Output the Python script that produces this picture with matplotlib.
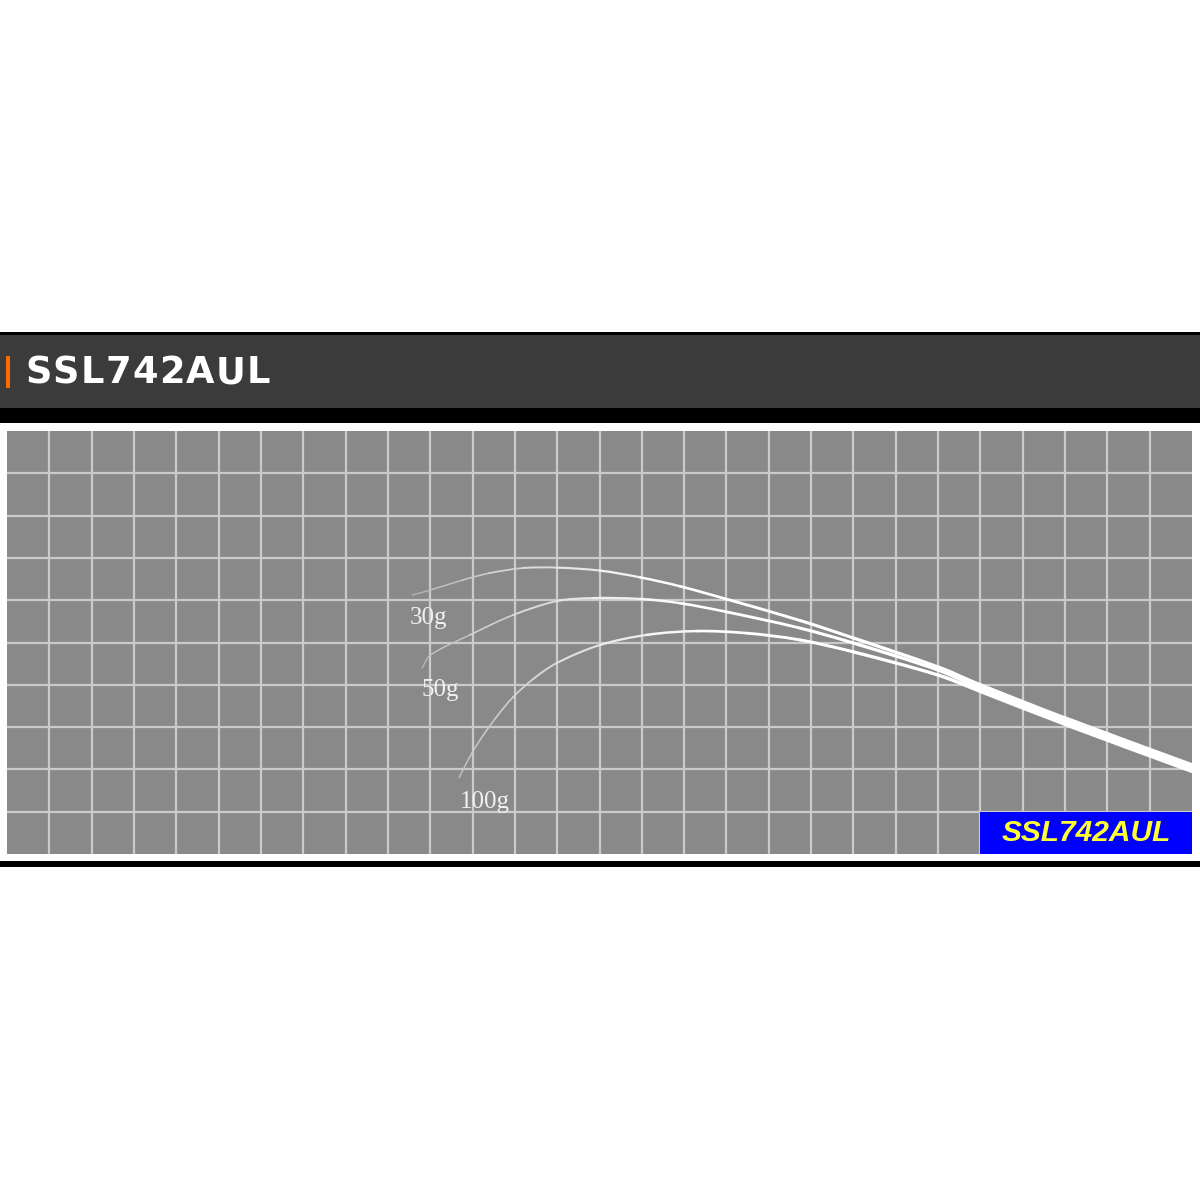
import numpy as np
import matplotlib
matplotlib.use("Agg")
import matplotlib.pyplot as plt
from matplotlib.patches import Rectangle, PathPatch
from matplotlib.path import Path

# ---- data (grid units: x columns from left, y rows from bottom) ----
title = "SSL742AUL"
badge = "SSL742AUL"
load_labels = ["30g", "50g", "100g"]

x_30g = [9.57, 10.00, 10.78, 11.40, 12.19, 13.00, 14.01, 14.96, 15.90, 17.02, 18.74, 19.99, 22.00, 22.99, 25.00, 28.00]
y_30g = [6.12, 6.24, 6.48, 6.64, 6.76, 6.77, 6.70, 6.54, 6.33, 6.02, 5.52, 5.11, 4.42, 4.00, 3.21, 2.10]

x_50g = [9.81, 10.00, 10.94, 11.96, 13.00, 13.85, 14.96, 15.90, 17.02, 18.74, 19.99, 22.00, 22.99, 25.00, 28.00]
y_50g = [4.40, 4.70, 5.18, 5.65, 5.98, 6.05, 6.03, 5.93, 5.72, 5.34, 4.99, 4.35, 3.92, 3.14, 2.03]

x_100g = [10.68, 10.92, 11.18, 11.55, 11.96, 12.45, 13.00, 14.01, 15.12, 16.30, 17.49, 18.74, 19.99, 22.00, 22.99, 25.00, 28.00]
y_100g = [1.80, 2.27, 2.70, 3.22, 3.71, 4.15, 4.52, 4.94, 5.18, 5.27, 5.22, 5.06, 4.78, 4.23, 3.85, 3.07, 1.96]

label_x = [9.95, 10.23, 11.29]
label_y = [5.58, 3.88, 1.23]

n_cols, n_rows = 28, 10

PANEL_BG = np.array([0x89, 0x89, 0x89]) / 255.0

# ---- figure ----
W = H = 1200
fig = plt.figure(figsize=(12, 12), dpi=100)
fig.patch.set_facecolor("white")

# background decoration layer in pixel coordinates (y downward)
bg = fig.add_axes([0, 0, 1, 1])
bg.set_xlim(0, W)
bg.set_ylim(H, 0)
bg.axis("off")
bg.add_patch(Rectangle((0, 332), W, 3, color="black", lw=0))
bg.add_patch(Rectangle((0, 335), W, 73, color="#3b3b3b", lw=0))
bg.add_patch(Rectangle((0, 408), W, 15, color="black", lw=0))
bg.add_patch(Rectangle((0, 861), W, 6, color="black", lw=0))
bg.add_patch(Rectangle((6, 356), 4, 32, color="#ff6a00", lw=0))

# letter-spaced header title
renderer = fig.canvas.get_renderer()
xpos = 25.0
spacing = 1.2
for ch in title:
    t = bg.text(xpos, 383, ch, color="white", fontsize=26.5, fontweight="bold",
                family="DejaVu Sans", ha="left", va="baseline")
    w = t.get_window_extent(renderer=renderer).width
    xpos += w + spacing

# chart panel
left, top, right, bottom = 7, 431, 1192, 854
ax = fig.add_axes([left / W, 1 - bottom / H, (right - left) / W, (bottom - top) / H])
ax.set_facecolor(PANEL_BG)
ax.set_xlim(0, n_cols)
ax.set_ylim(0, n_rows)
ax.set_xticks(np.arange(1, n_cols))
ax.set_yticks(np.arange(1, n_rows))
ax.grid(True, color="#cacaca", lw=1.6)
ax.tick_params(length=0, labelbottom=False, labelleft=False)
for s in ax.spines.values():
    s.set_visible(False)
ax.set_axisbelow(True)


def smooth_tapered(ax, xs, ys, w0, w1, a0, ramp):
    P = np.column_stack([xs, ys]).astype(float)
    n = len(P)
    tang = np.zeros_like(P)
    for i in range(n):
        a = P[max(i - 1, 0)]
        b = P[min(i + 1, n - 1)]
        d = b - a
        tang[i] = d / np.hypot(*d)
    x0, x1 = P[0, 0], P[-1, 0]
    for i in range(n - 1):
        p, q = P[i], P[i + 1]
        L = np.hypot(*(q - p))
        c1 = p + tang[i] * L / 3
        c2 = q - tang[i + 1] * L / 3
        t = ((p[0] + q[0]) / 2 - x0) / (x1 - x0)
        w = w0 + (w1 - w0) * t ** 0.7
        a = min(1.0, a0 + (1 - a0) * t * ramp)
        col = PANEL_BG + (1 - PANEL_BG) * a
        path = Path([p, c1, c2, q], [Path.MOVETO, Path.CURVE4, Path.CURVE4, Path.CURVE4])
        ax.add_patch(PathPatch(path, fill=False, edgecolor=col, lw=w,
                               capstyle="round", joinstyle="round", zorder=3))


smooth_tapered(ax, x_30g, y_30g, 0.8, 3.0, 0.4, 3.0)
smooth_tapered(ax, x_50g, y_50g, 0.8, 3.0, 0.45, 3.0)
smooth_tapered(ax, x_100g, y_100g, 0.9, 3.0, 0.5, 3.0)

for lab, lx, ly in zip(load_labels, label_x, label_y):
    ax.text(lx, ly, lab, color="#f0f0f0", fontsize=18, family="Liberation Serif",
            ha="center", va="center", zorder=4)

# badge in bottom-right cell block
ax.add_patch(Rectangle((23, 0), 5, 1, color="#0000ff", lw=0, zorder=5))
ax.text(25.5, 0.5, badge, color="#ffff33", fontsize=21.5, fontweight="bold",
        fontstyle="italic", family="Liberation Sans", ha="center", va="center", zorder=6)

fig.savefig("out.png", dpi=100, facecolor="white")
